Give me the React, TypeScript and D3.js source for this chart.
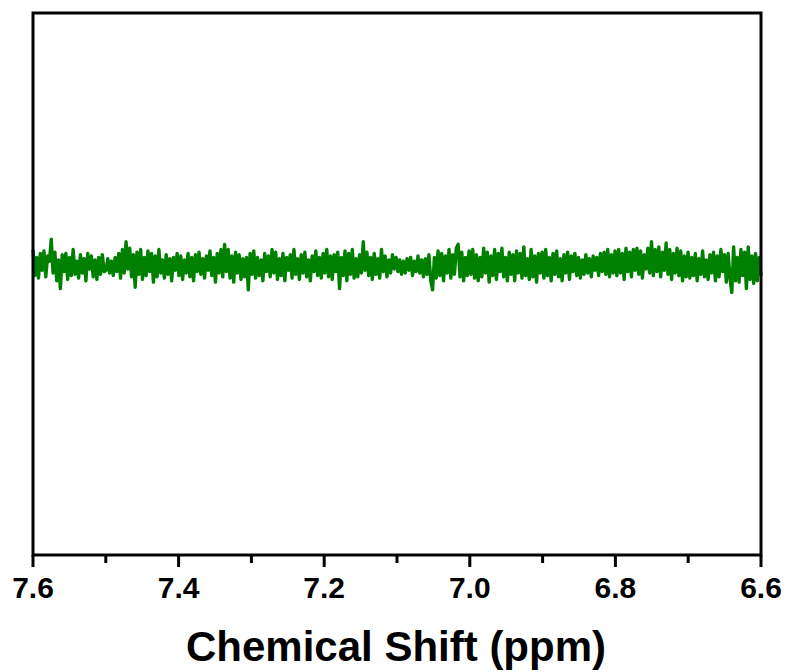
import React from "react";
import * as d3 from "d3";

const xTicksMajor = [7.6, 7.4, 7.2, 7.0, 6.8, 6.6];
const xTicksMinor = [7.5, 7.3, 7.1, 6.9, 6.7];
const xDomain = [7.6, 6.6];
const xTitle = "Chemical Shift (ppm)";

// Intensity (arbitrary units), left (7.6 ppm) to right (6.6 ppm)
const intensity = [
  12, -8, 6, -10, 9, -4, 11, -9, 7, 3, 20, -6, 10, -12, 4, -18, 8, -5, 9, -11, 6, -8, 12, -7, 3, -10, 8, -6, 5, -12, 9, -3, 7, -9, 4, -11, 6, -7, 8, -5,
  -4, 5, -6, 3, -8, 6, -5, 9, -10, 12, -6, 18, -3, 13, -9, 8, -17, 10, -7, 12, -11, 6, -8, 11, -5, 9, -13, 7, -9, 12, -6, 4, -10, 8, -7, 5, -12, 6, -4, 9,
  -8, 7, -11, 4, -6, 9, -9, 6, -12, 8, -5, 10, -7, 5, -10, 7, -4, 11, -8, 6, -13, 9, -6, 12, -9, 16, -5, 12, -10, 7, -13, 10, -6, 8, -11, 5, -9, 6, -19, 9,
  -7, 11, -10, 6, -8, 4, -12, 9, -5, 7, -9, 12, -6, 10, -11, 5, -8, 9, -12, 6, -4, 8, -10, 12, -7, 5, -11, 8, -6, 10, -9, 4, -12, 7, -5, 11, -8, 6, -10, 9,
  -6, 12, -9, 7, -11, 8, -5, 10, -18, 6, -8, 11, -12, 9, -7, 12, -10, 5, -9, 8, -6, 18, -4, 10, -8, 6, -11, 9, -7, 5, -10, 12, -5, 7, -9, 4, -6, 8, -3, 6,
  -5, 4, -7, 3, -6, 5, -4, 6, -8, 3, -5, 7, -6, 4, -9, 5, -7, 8, -12, -19, 6, -10, 11, -8, 9, -12, 7, -6, 12, -10, 8, -7, 13, 16, -9, 10, -12, 6, -8, 11,
  -7, 12, -10, 8, -12, 6, -9, 13, -6, 10, -13, 7, -8, 12, -11, 9, -5, 13, -9, 6, -12, 10, -7, 8, -12, 11, -6, 9, -10, 14, -8, 5, -11, 12, -9, 7, -13, 9, -6, 10,
  -10, 12, -8, 6, -12, 9, -7, 11, -9, 5, -12, 8, -6, 10, -11, 7, -5, 9, -8, 6, -10, 4, -7, 8, -6, 5, -9, 7, -4, 6, -8, 9, -5, 10, -7, 12, -9, 8, -6, 11,
  -8, 12, -6, 9, -11, 13, -5, 10, -9, 12, -4, 13, -7, 11, -10, 8, -3, 13, -6, 18, -8, 12, -5, 14, -9, 10, -4, 17, -7, 12, -11, 9, -6, 13, -8, 11, -12, 7, -9, 10,
  -10, 6, -8, 9, -12, 5, -7, 11, -9, 4, -11, 8, -6, 10, -12, 7, -9, 12, -5, 8, -13, 9, -10, -21, 14, -12, 6, -13, 12, -8, 10, -18, 14, -11, 7, -14, 9, -12, 6, -8,
];
const yDomain = [-223, 194];

export default function App() {
  const W = 788, H = 672;
  const left = 33, right = 761, top = 13, bottom = 555;
  const x = d3.scaleLinear().domain(xDomain).range([left, right]);
  const y = d3.scaleLinear().domain(yDomain).range([bottom, top]);
  const n = intensity.length;
  const ppm = intensity.map((_, i) => xDomain[0] + (xDomain[1] - xDomain[0]) * (i / (n - 1)));
  const line = d3
    .line<number>()
    .x((_, i) => x(ppm[i]))
    .y((v) => y(v));
  const font = "'Liberation Sans', Arial, sans-serif";
  return (
    <svg width={W} height={H} style={{ position: "absolute", left: 0, top: 0, background: "#fff" }}>
      <path d={line(intensity) || ""} fill="none" stroke="#008000" strokeWidth={3.4} strokeLinejoin="round" />
      <rect x={left} y={top} width={right - left} height={bottom - top} fill="none" stroke="#000" strokeWidth={3} />
      {xTicksMajor.map((t) => (
        <g key={"M" + t}>
          <line x1={x(t)} x2={x(t)} y1={bottom} y2={bottom + 12} stroke="#000" strokeWidth={3} />
          <text x={x(t)} y={598} textAnchor="middle" fontFamily={font} fontWeight="bold" fontSize={30} fill="#000">
            {t.toFixed(1)}
          </text>
        </g>
      ))}
      {xTicksMinor.map((t) => (
        <line key={"m" + t} x1={x(t)} x2={x(t)} y1={bottom} y2={bottom + 8} stroke="#000" strokeWidth={3} />
      ))}
      <text x={396} y={661} textAnchor="middle" fontFamily={font} fontWeight="bold" fontSize={42} fill="#000">
        {xTitle}
      </text>
    </svg>
  );
}
